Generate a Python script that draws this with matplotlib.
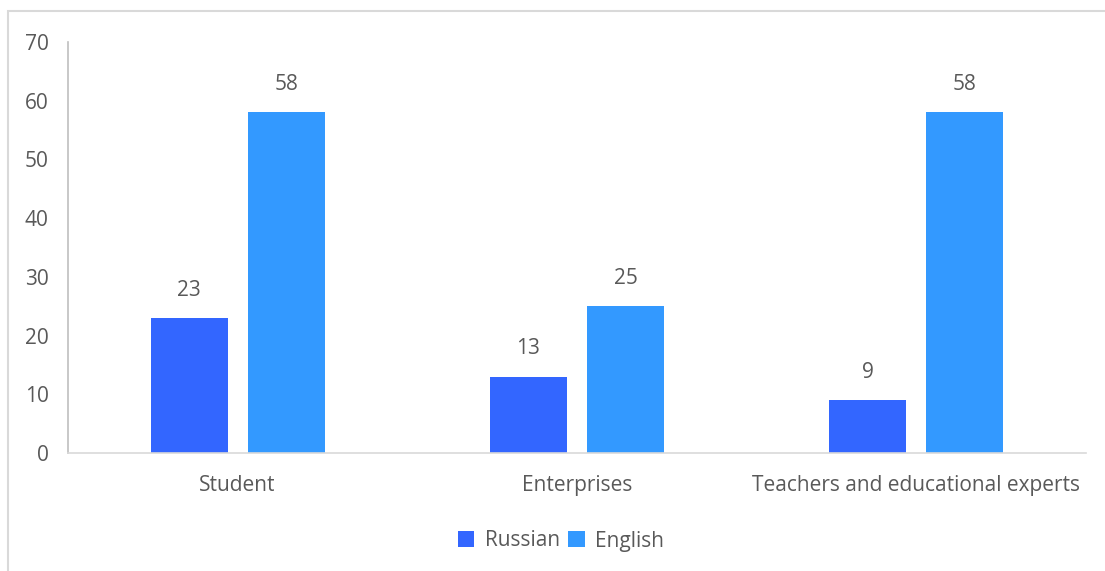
import matplotlib.pyplot as plt
import numpy as np
from matplotlib.patches import Rectangle

categories = ["Student", "Enterprises", "Teachers and educational experts"]
russian = [23, 13, 9]
english = [58, 25, 58]
series_names = ["Russian", "English"]
colors = ["#3366FF", "#3399FF"]

plt.rcParams["font.family"] = ["Open Sans", "DejaVu Sans"]
text_color = "#595959"
fs = 15

fig = plt.figure(figsize=(11.05, 5.71), dpi=100)
ax = fig.add_axes([68 / 1105, 1 - 453 / 571, 1018 / 1105, 411 / 571])

# figure border (extends past right/bottom edges like the source crop)
fig.patches.append(Rectangle((8 / 1105, -0.05), 1.2, 1 - 11 / 571 + 0.05,
                             transform=fig.transFigure, fill=False,
                             edgecolor="#D9D9D9", linewidth=1.5))

x = np.arange(len(categories))
w = 0.227
off = 0.143
b1 = ax.bar(x - off, russian, w, color=colors[0], label=series_names[0])
b2 = ax.bar(x + off, english, w, color=colors[1], label=series_names[1])

for bars in (b1, b2):
    for r in bars:
        ax.annotate(f"{r.get_height():g}", (r.get_x() + r.get_width() / 2, r.get_height()),
                    xytext=(0, 20), textcoords="offset points", ha="center", va="center",
                    fontsize=fs, color=text_color)

ax.set_xlim(-0.5, len(categories) - 0.5)
ax.set_ylim(0, 70)
ax.set_yticks(range(0, 71, 10))
ax.set_xticks(x)
ax.set_xticklabels(categories)
ax.tick_params(axis="both", length=0, labelsize=fs, labelcolor=text_color)
ax.tick_params(axis="y", pad=14)
ax.tick_params(axis="x", pad=16)

for s in ("top", "right"):
    ax.spines[s].set_visible(False)
ax.spines["left"].set_color("#BFBFBF")
ax.spines["bottom"].set_color("#D9D9D9")
ax.spines["left"].set_linewidth(1.2)
ax.spines["bottom"].set_linewidth(1.2)

leg = fig.legend(loc="center", bbox_to_anchor=(561 / 1105, 1 - 541 / 571), ncol=2,
                 frameon=False, fontsize=fs, handlelength=0.8, handleheight=0.8,
                 handletextpad=0.5, columnspacing=0.4)
for t in leg.get_texts():
    t.set_color(text_color)

fig.savefig("out.png", dpi=100)
